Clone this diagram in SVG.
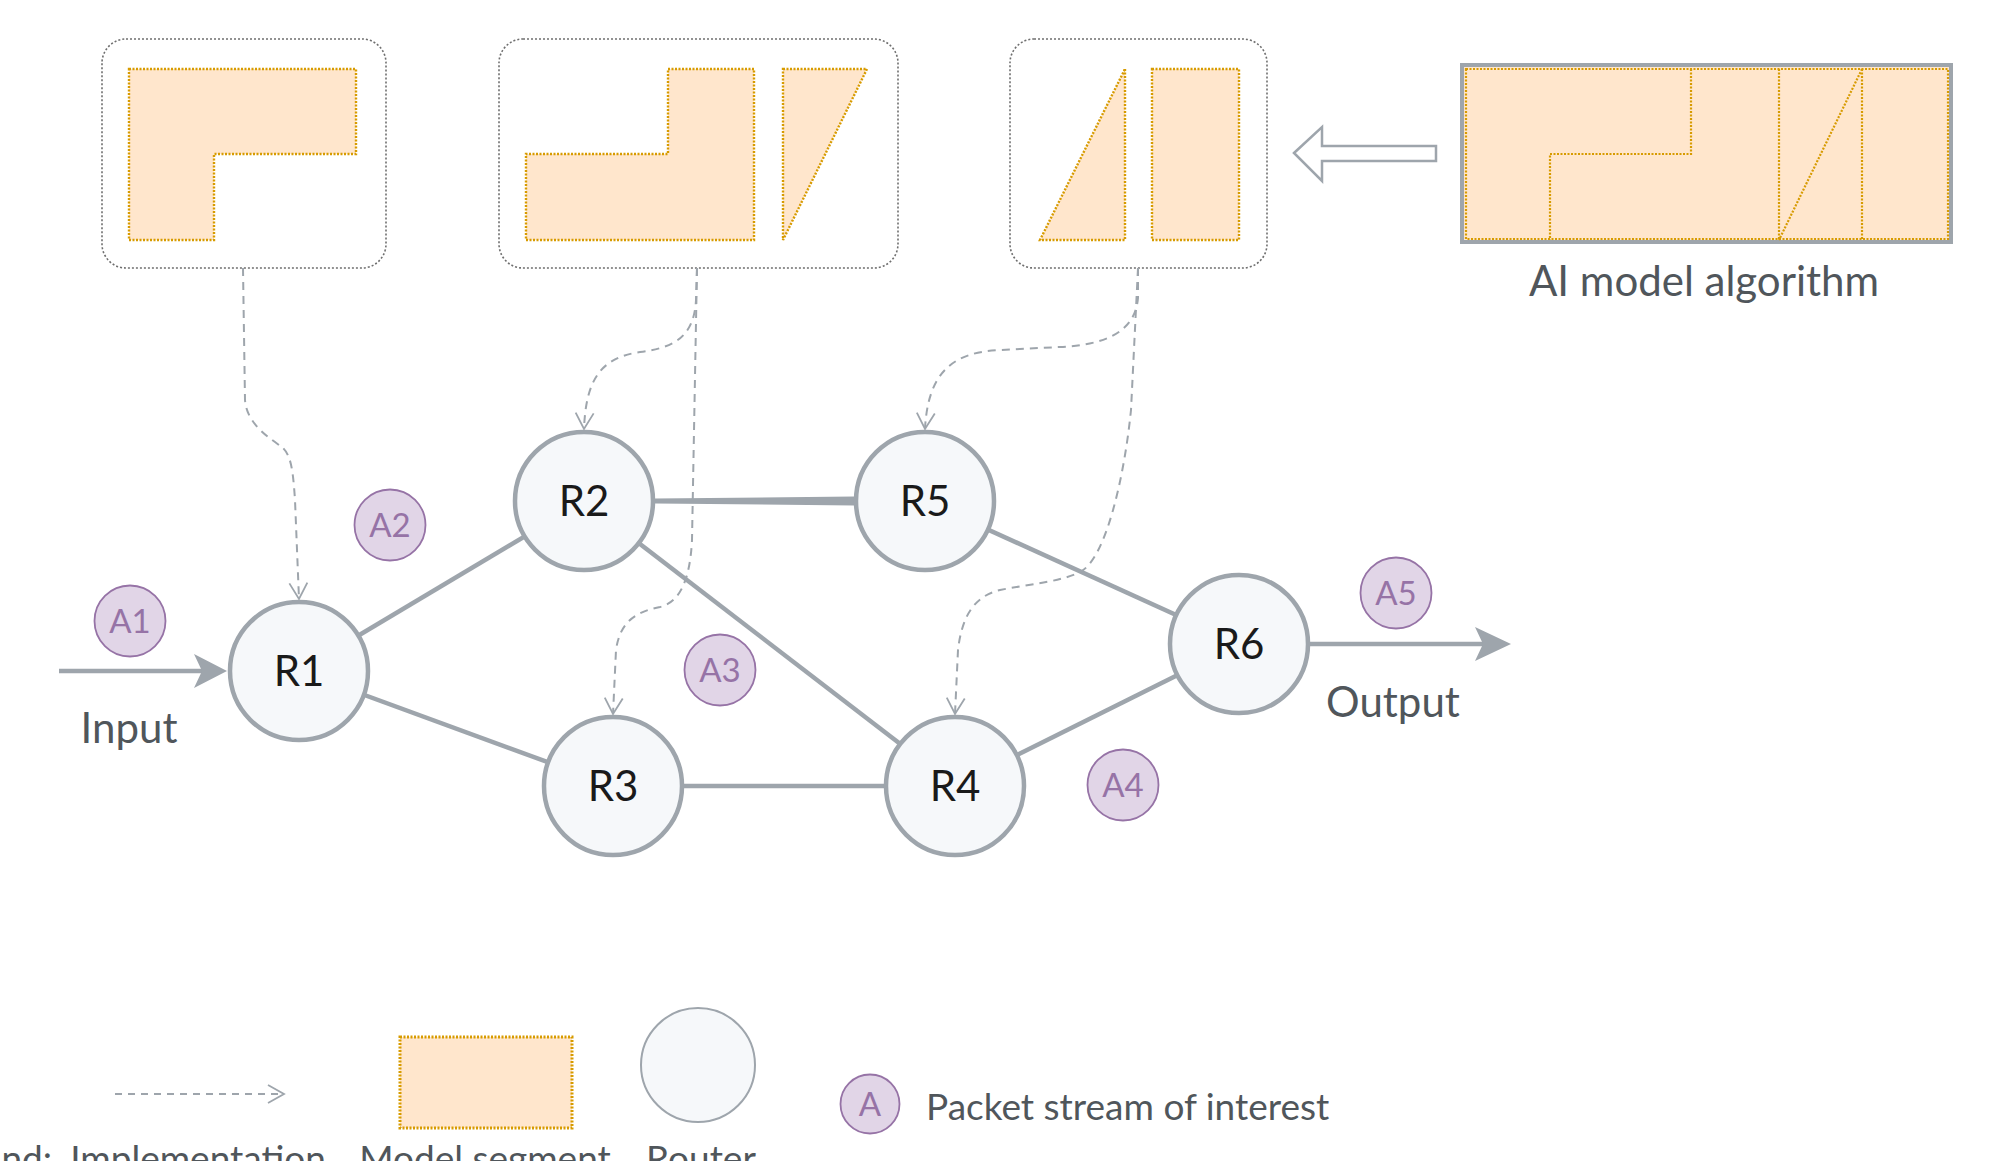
<svg xmlns="http://www.w3.org/2000/svg" width="2003" height="1161" viewBox="0 0 2003 1161">
<style>
.box{fill:#ffffff;stroke:#6f6f6f;stroke-width:1.6;stroke-dasharray:2 2}
.seg{fill:#ffe6cc;stroke:#d79b00;stroke-width:2.4;stroke-dasharray:2 1.5}
.segline{fill:none;stroke:#d79b00;stroke-width:2.2;stroke-dasharray:2 1.5}
.edge{stroke:#9ea5ac;stroke-width:4.5;fill:none}
.impl{fill:none;stroke:#9ea5ac;stroke-width:2;stroke-dasharray:8 6}
.router{fill:#f6f8fa;stroke:#9ea5ac;stroke-width:4.5}
.badge{fill:#e1d5e7;stroke:#9673a6;stroke-width:1.8}
.btxt{font-family:Lato,"Liberation Sans",sans-serif;font-size:33px;fill:#9673a6;text-anchor:middle}
.rtxt{font-family:Lato,"Liberation Sans",sans-serif;font-size:42px;fill:#1a1a1a;text-anchor:middle}
.lbl{font-family:Lato,"Liberation Sans",sans-serif;font-size:42px;fill:#50565b}
</style>
<defs>
<marker id="vh" viewBox="0 0 20 20" refX="18" refY="10" markerWidth="20" markerHeight="20" markerUnits="userSpaceOnUse" orient="auto">
<path d="M2,1 L18,10 L2,19" fill="none" stroke="#9ea5ac" stroke-width="1.8"/>
</marker>
</defs>

<g id="model-box-1">
<rect class="box" x="102" y="39" width="284" height="229" rx="24"/>
<polygon class="seg" points="129,69 356,69 356,154 214,154 214,240 129,240"/>
</g>
<g id="model-box-2">
<rect class="box" x="499" y="39" width="399" height="229" rx="24"/>
<polygon class="seg" points="668,69 754,69 754,240 526,240 526,154 668,154"/>
<polygon class="seg" points="783,69 867,69 783,240"/>
</g>
<g id="model-box-3">
<rect class="box" x="1010" y="39" width="257" height="229" rx="24"/>
<polygon class="seg" points="1125,69 1125,240 1040,240"/>
<rect class="seg" x="1152" y="69" width="87" height="171"/>
</g>
<g id="ai-model">
<rect x="1462" y="65" width="489" height="177" fill="#ffe6cc" stroke="#9ea5ac" stroke-width="4"/>
<rect class="segline" x="1466" y="69" width="482" height="170"/>
<path class="segline" d="M1691,69 L1691,154 L1550,154 L1550,240 M1779,69 L1779,240 M1862,69 L1862,240 M1862,69 L1779,240"/>
<text class="lbl" x="1704" y="296" text-anchor="middle">AI model algorithm</text>
</g>
<g id="hollow-arrow">
<polygon points="1294,153 1322,127 1322,146 1436,146 1436,161 1322,161 1322,181" fill="#ffffff" stroke="#9ea5ac" stroke-width="2.5"/>
</g>

<g id="connectors">
<line class="edge" x1="299" y1="671" x2="584" y2="501"/>
<line class="edge" x1="299" y1="671" x2="613" y2="786"/>
<polygon points="655,498.5 854,496.5 854,505.5 655,503.5" fill="#9ea5ac"/>
<line class="edge" x1="584" y1="501" x2="955" y2="786"/>
<line class="edge" x1="613" y1="786" x2="955" y2="786"/>
<line class="edge" x1="925" y1="501" x2="1240" y2="644"/>
<line class="edge" x1="955" y1="786" x2="1240" y2="644"/>
<line class="edge" x1="59" y1="671" x2="204" y2="671"/>
<polygon points="227,671 194,654 202,671 194,688" fill="#9ea5ac"/>
<line class="edge" x1="1300" y1="644" x2="1486" y2="644"/>
<polygon points="1511,644 1475,627 1483,644 1475,661" fill="#9ea5ac"/>
<path class="impl" marker-end="url(#vh)" d="M243,268 L245,400 C247,425 270,438 283,448 C291,456 293,470 295,500 L299,599"/>
<path class="impl" marker-end="url(#vh)" d="M697,268 L696,300 C694,340 670,348 640,352 C600,358 586,380 584,429"/>
<path class="impl" marker-end="url(#vh)" d="M697,268 L692,540 C690,580 680,602 660,607 C635,612 620,622 616,650 L613,714"/>
<path class="impl" marker-end="url(#vh)" d="M1138,268 L1138,298 C1135,335 1100,345 1060,347 L1000,350 C955,352 928,370 925,429"/>
<path class="impl" marker-end="url(#vh)" d="M1138,268 L1131,410 C1124,480 1105,560 1080,572 C1060,582 1030,584 1000,590 C975,596 962,615 958,650 L955,714"/>
</g>

<g id="R1"><circle class="router" cx="299" cy="671" r="69"/><text class="rtxt" x="299" y="686">R1</text></g>
<g id="R2"><circle class="router" cx="584" cy="501" r="69"/><text class="rtxt" x="584" y="516">R2</text></g>
<g id="R3"><circle class="router" cx="613" cy="786" r="69"/><text class="rtxt" x="613" y="801">R3</text></g>
<g id="R4"><circle class="router" cx="955" cy="786" r="69"/><text class="rtxt" x="955" y="801">R4</text></g>
<g id="R5"><circle class="router" cx="925" cy="501" r="69"/><text class="rtxt" x="925" y="516">R5</text></g>
<g id="R6"><circle class="router" cx="1239" cy="644" r="69"/><text class="rtxt" x="1239" y="659">R6</text></g>

<g id="A1"><circle class="badge" cx="130" cy="621" r="35.5"/><text class="btxt" x="130" y="633">A1</text></g>
<g id="A2"><circle class="badge" cx="390" cy="525" r="35.5"/><text class="btxt" x="390" y="537">A2</text></g>
<g id="A3"><circle class="badge" cx="720" cy="670" r="35.5"/><text class="btxt" x="720" y="682">A3</text></g>
<g id="A4"><circle class="badge" cx="1123" cy="785" r="35.5"/><text class="btxt" x="1123" y="797">A4</text></g>
<g id="A5"><circle class="badge" cx="1396" cy="593" r="35.5"/><text class="btxt" x="1396" y="605">A5</text></g>

<text class="lbl" x="129" y="743" text-anchor="middle">Input</text>
<text class="lbl" x="1393" y="717" text-anchor="middle">Output</text>

<g id="legend">
<path class="impl" marker-end="url(#vh)" d="M115,1094 L284,1094" style="stroke-dasharray:7 6"/>
<rect x="400" y="1037" width="172" height="91" fill="#ffe6cc" stroke="#d79b00" stroke-width="3" stroke-dasharray="2 1.5"/>
<circle cx="698" cy="1065" r="57" fill="#f6f8fa" stroke="#9ea5ac" stroke-width="2"/>
<circle class="badge" cx="870" cy="1104" r="29.5"/>
<text class="btxt" x="870" y="1116">A</text>
<text class="lbl" x="926" y="1120" style="font-size:37px">Packet stream of interest</text>
<text class="lbl" x="52" y="1172" text-anchor="end" style="font-size:37px">nd:</text>
<text class="lbl" x="198" y="1172" text-anchor="middle" style="font-size:37px">Implementation</text>
<text class="lbl" x="485" y="1172" text-anchor="middle" style="font-size:37px">Model segment</text>
<text class="lbl" x="701" y="1172" text-anchor="middle" style="font-size:37px">Router</text>
</g>
</svg>
